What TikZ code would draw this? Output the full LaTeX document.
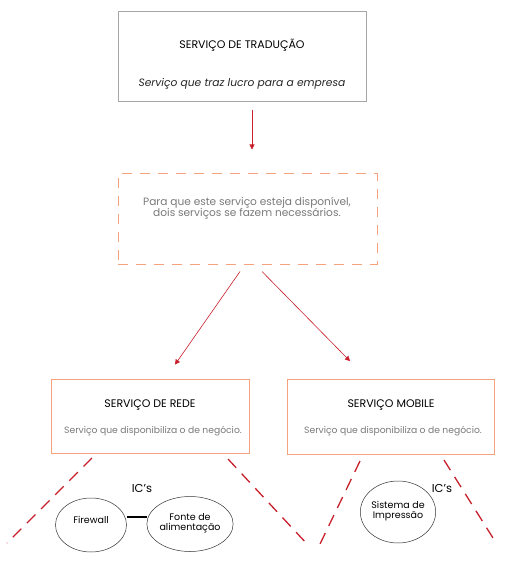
\documentclass[tikz,border=0pt]{standalone}
\usepackage{fontspec}
\setmainfont{Poppins}
\usetikzlibrary{shapes.geometric,arrows.meta}
\definecolor{boxgray}{HTML}{A6A6A6}
\definecolor{salmon}{HTML}{F7A27E}
\definecolor{darkred}{HTML}{C8202C}
\definecolor{textgray}{HTML}{7A7A7A}
\begin{document}
\begin{tikzpicture}[x=1pt,y=-1pt,
  box/.style={draw, rectangle, inner sep=0pt, line width=0.8pt},
  title/.style={font=\fontsize{11}{13}\selectfont, text=black},
  sub/.style={font=\fontsize{9.2}{11}\selectfont, text=textgray},
  redarrow/.style={draw=darkred, line width=0.6pt, -{Triangle[length=5pt,width=5pt]}},
  reddash/.style={draw=darkred, line width=1.3pt, dash pattern=on 12pt off 8pt},
  ic/.style={draw=black!80, ellipse, line width=0.5pt, inner sep=0pt, align=center, font=\fontsize{9.5}{12}\selectfont}
]
\useasboundingbox[fill=white] (0,0) rectangle (508,569);

% top box
\node[box, draw=boxgray, minimum width=248pt, minimum height=90pt] (trad) at (242,56) {};
\node[title] (tradT) at (242,45) {SERVIÇO DE TRADUÇÃO};
\node[font=\itshape\fontsize{10.7}{13}\selectfont, text=black!85] (tradS) at (242,84) {Serviço que traz lucro para a empresa};

% dashed box
\node[box, draw=salmon, line width=1pt, dash pattern=on 10pt off 8pt, minimum width=259pt, minimum height=90pt] (need) at (247.5,219) {};
\node[sub, font=\fontsize{10.6}{11.5}\selectfont, align=center] (needT) at (247,208) {Para que este serviço esteja disponível,\\dois serviços se fazem necessários.};

% service boxes
\node[box, draw=salmon, minimum width=198pt, minimum height=74pt] (rede) at (150,416) {};
\node[title] (redeT) at (150,405) {SERVIÇO DE REDE};
\node[sub] (redeS) at (153,431) {Serviço que disponibiliza o de negócio.};

\node[box, draw=salmon, minimum width=207pt, minimum height=75pt] (mob) at (390.5,416.5) {};
\node[title] (mobT) at (391,405) {SERVIÇO MOBILE};
\node[sub] (mobS) at (393,431) {Serviço que disponibiliza o de negócio.};

% arrows
\draw[redarrow] ([shift={(10,9)}]trad.south) -- ([shift={(4.5,-24)}]need.north);
\draw[redarrow] ([shift={(-7.5,7)}]need.south) -- ([shift={(25,-14)}]rede.north);
\draw[redarrow] ([shift={(14.5,7)}]need.south) -- ([shift={(-40.5,-17.5)}]mob.north);

% dashed red lines
\coordinate (a1) at (92,458);  \coordinate (a2) at (7,543);
\coordinate (b1) at (228,459); \coordinate (b2) at (308,545);
\coordinate (c1) at (360,461); \coordinate (c2) at (320,544);
\coordinate (d1) at (444,460); \coordinate (d2) at (493,538);
\draw[reddash] (a1) -- (a2);
\draw[reddash] (b1) -- (b2);
\draw[reddash] (c1) -- (c2);
\draw[reddash] (d1) -- (d2);

% ICs
\node[ic, minimum width=71pt, minimum height=54pt] (fw) at (91,525) {\raisebox{11pt}{Firewall}};
\node[ic, minimum width=74pt, minimum height=55pt] (fonte) at (190,524) {\raisebox{4pt}{\shortstack{Fonte de\\alimentação}}};
\draw[line width=2pt] ([yshift=8]fw.east) -- ([yshift=7]fonte.west);
\node[font=\fontsize{11.5}{13}\selectfont] (ic1) at (142,488) {IC's};

\node[ic, minimum width=74pt, minimum height=62pt] (sis) at (398,512) {\raisebox{4pt}{\shortstack{Sistema de\\Impressão}}};
\node[font=\fontsize{11.5}{13}\selectfont] (ic2) at (442,488) {IC's};
\end{tikzpicture}
\end{document}
